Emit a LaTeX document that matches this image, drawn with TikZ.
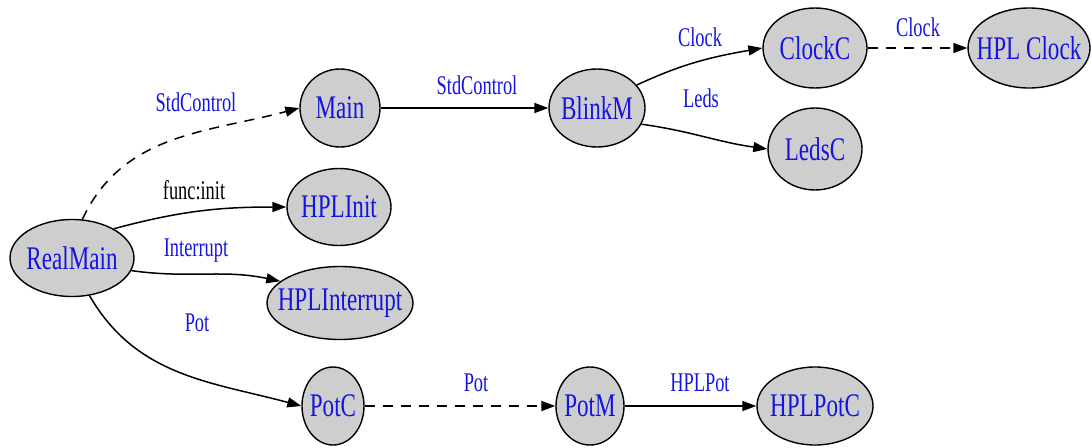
\documentclass[tikz,border=0pt]{standalone}
\usepackage{fontspec}
\usetikzlibrary{shapes.geometric,arrows.meta}
\newfontfamily\nodefnt[FakeStretch=0.7]{Liberation Serif}
\newfontfamily\edgefnt[FakeStretch=0.68]{Liberation Serif}
\definecolor{lblue}{RGB}{20,20,225}
\definecolor{ngray}{RGB}{206,206,206}
\newcommand\mb[1]{\makebox[0pt]{#1}}
\tikzset{
  comp/.style={ellipse, draw=black, line width=1.4pt, fill=ngray, inner sep=0pt,
    text=lblue, font=\nodefnt\fontsize{33}{33}\selectfont},
  elab/.style={inner sep=0pt, text=lblue, font=\edgefnt\fontsize{27}{27}\selectfont},
  blab/.style={elab, text=black},
  wire/.style={line width=1.5pt, -{Triangle[length=14pt,width=10pt]}},
  dwire/.style={wire, dash pattern=on 10pt off 8pt}
}
\begin{document}
\begin{tikzpicture}[x=1pt,y=-1pt]
\useasboundingbox[fill=white] (0,0) rectangle (1092,447);
% components
\node[comp, minimum width=124pt, minimum height=77pt] (RealMain) at (72,258) {\mb{RealMain}};
\node[comp, minimum width=80pt, minimum height=78pt] (Main) at (340,108) {\mb{Main}};
\node[comp, minimum width=96pt, minimum height=78pt] (BlinkM) at (597,108) {\mb{BlinkM}};
\node[comp, minimum width=104pt, minimum height=80pt] (ClockC) at (815,48) {\mb{ClockC}};
\node[comp, minimum width=122pt, minimum height=80pt] (HPLClock) at (1029,48) {\mb{HPL Clock}};
\node[comp, minimum width=94pt, minimum height=82pt] (LedsC) at (815,149) {\mb{LedsC}};
\node[comp, minimum width=104pt, minimum height=77pt] (HPLInit) at (339,207) {\mb{HPLInit}};
\node[comp, minimum width=146pt, minimum height=73pt] (HPLInterrupt) at (340,303) {\mb{HPLInterrupt}};
\node[comp, minimum width=62pt, minimum height=78pt] (PotC) at (333,406) {\mb{PotC}};
\node[comp, minimum width=68pt, minimum height=78pt] (PotM) at (590,406) {\mb{PotM}};
\node[comp, minimum width=116pt, minimum height=78pt] (HPLPotC) at (815,406) {\mb{HPLPotC}};
% connectors
\draw[dwire] (RealMain.75) to[out=65,in=195] (Main.west);
\draw[wire] (RealMain.35) to[out=15,in=180] (HPLInit.west);
\draw[wire] (RealMain.-12) to[out=-8,in=168] (HPLInterrupt.160);
\draw[wire] (RealMain.-65) to[out=-60,in=165] (PotC.west);
\draw[wire] (Main.east) -- (BlinkM.west);
\draw[wire] (BlinkM.30) to[out=25,in=190] (ClockC.west);
\draw[wire] (BlinkM.-20) to[out=-8,in=172] (LedsC.west);
\draw[dwire] (ClockC.east) -- (HPLClock.west);
\draw[dwire] (PotC.east) -- (PotM.west);
\draw[wire] (PotM.east) -- (HPLPotC.west);
% connector labels
\node[elab] (l1) at (196,102) {StdControl};
\node[blab] (l2) at (194,190) {func:init};
\node[elab] (l3) at (196,251) {Interrupt};
\node[elab] (l4) at (197,323) {Pot};
\node[elab] (l5) at (477,85) {StdControl};
\node[elab] (l6) at (700,37) {Clock};
\node[elab] (l7) at (701,98) {Leds};
\node[elab] (l8) at (918,27) {Clock};
\node[elab] (l9) at (476,383) {Pot};
\node[elab] (l10) at (700,383) {HPLPot};
\end{tikzpicture}
\end{document}
